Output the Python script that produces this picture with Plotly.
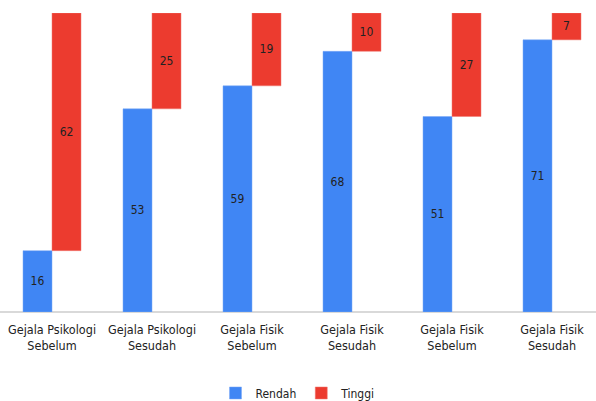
import plotly.graph_objects as go

categories = ["Gejala Psikologi<br>Sebelum", "Gejala Psikologi<br>Sesudah", "Gejala Fisik<br>Sebelum",
              "Gejala Fisik<br>Sesudah", "Gejala Fisik<br>Sebelum", "Gejala Fisik<br>Sesudah"]
rendah = [16, 53, 59, 68, 51, 71]
tinggi = [62, 25, 19, 10, 27, 7]

xpos = list(range(len(categories)))
FONT = "DejaVu Sans Condensed, Liberation Sans, Arial, sans-serif"

fig = go.Figure()
fig.add_trace(go.Bar(
    x=xpos, y=rendah, name="Rendah", width=0.29, offset=-0.29,
    marker=dict(color="#4086f4", line=dict(color="#7aa8f7", width=0.5)),
    text=rendah, textposition="inside", insidetextanchor="middle", textangle=0,
    textfont=dict(color="#222222", size=12, family=FONT),
))
fig.add_trace(go.Bar(
    x=xpos, y=tinggi, base=rendah, name="Tinggi", width=0.29, offset=0,
    marker=dict(color="#ec3b2f", line=dict(color="#f07a72", width=0.5)),
    text=tinggi, textposition="inside", insidetextanchor="middle", textangle=0,
    textfont=dict(color="#222222", size=12, family=FONT),
))

fig.update_layout(
    width=596, height=401,
    margin=dict(l=0, r=0, t=13, b=89, autoexpand=False),
    barmode="overlay",
    plot_bgcolor="white", paper_bgcolor="white",
    font=dict(family=FONT, size=12, color="#222222"),
    xaxis=dict(range=[-0.52, 5.44], tickvals=xpos, ticktext=categories, automargin=False,
               showgrid=False, zeroline=False, showline=False, ticks="outside", ticklen=6,
               tickcolor="rgba(0,0,0,0)",
               tickfont=dict(size=12.5, color="#222222")),
    yaxis=dict(range=[0, 78], visible=True, showticklabels=False, showgrid=False, automargin=False,
               zeroline=True, zerolinecolor="#d9d9d9", zerolinewidth=2),
    legend=dict(orientation="h", x=0.5, xanchor="center", yref="container", y=0.02, yanchor="middle",
                font=dict(size=12, color="#222222"), itemwidth=30),
    showlegend=True,
)

fig.write_html("out.html")
